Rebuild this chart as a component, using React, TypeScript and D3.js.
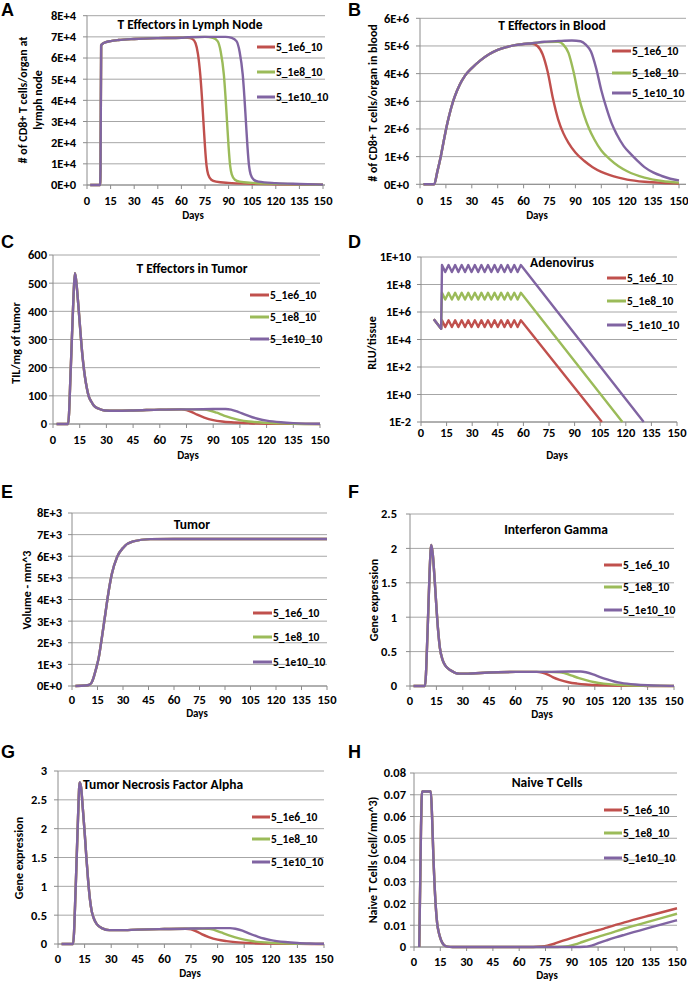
import React from 'react';
import * as d3 from 'd3';

type Pt = [number, number];

const seriesNames = ['5_1e6_10', '5_1e8_10', '5_1e10_10'];
const seriesColors = ['#C0504D', '#9BBB59', '#8064A2'];
const dayTicks = [0, 15, 30, 45, 60, 75, 90, 105, 120, 135, 150];

// ---------- A: T effectors in lymph node ----------
const lymphTicks = [0, 1e4, 2e4, 3e4, 4e4, 5e4, 6e4, 7e4, 8e4];
const lymphTickLabels = ['0E+0', '1E+4', '2E+4', '3E+4', '4E+4', '5E+4', '6E+4', '7E+4', '8E+4'];
const lymphCommon: Pt[] = [[2, 0], [8.3, 0], [8.6, 8000], [9, 66000], [10, 66800], [12, 67500], [15, 68000], [20, 68500], [30, 69000], [45, 69400], [60, 69600]];
const lymphRed: Pt[] = [[64, 69500], [67, 69000], [69, 67000], [70.5, 62000], [72, 52000], [73, 42000], [74, 30000], [75, 18000], [76, 9000], [77, 5000], [79, 2500], [82, 1600], [90, 1000], [105, 600], [120, 350], [150, 100]];
const lymphGreen: Pt[] = [[64, 69800], [75, 70000], [80, 69500], [83, 68000], [85, 63000], [87, 52000], [88, 42000], [89, 30000], [90, 18000], [91, 9000], [92, 5000], [94, 2500], [97, 1600], [105, 1000], [120, 600], [150, 150]];
const lymphPurple: Pt[] = [[64, 69800], [75, 70000], [88, 70000], [92, 69500], [95, 68000], [97, 63000], [99, 52000], [100, 42000], [101, 30000], [102, 18000], [103, 9000], [104, 5000], [106, 2500], [109, 1600], [120, 900], [135, 500], [150, 200]];

// ---------- B: T effectors in blood ----------
const bloodTicks = [0, 1e6, 2e6, 3e6, 4e6, 5e6, 6e6];
const bloodTickLabels = ['0E+0', '1E+6', '2E+6', '3E+6', '4E+6', '5E+6', '6E+6'];
const bloodCommon: Pt[] = [[2, 0], [8.2, 0], [10, 0.45e6], [12, 1.0e6], [14, 1.65e6], [16, 2.25e6], [18, 2.75e6], [20, 3.15e6], [23, 3.6e6], [26, 3.92e6], [30, 4.2e6], [35, 4.48e6], [40, 4.7e6], [45, 4.86e6], [50, 4.96e6], [55, 5.03e6], [60, 5.07e6]];
const bloodRed: Pt[] = [[65, 5.08e6], [68, 5.0e6], [71, 4.7e6], [74, 4.05e6], [77, 3.1e6], [80, 2.35e6], [83, 1.85e6], [86, 1.5e6], [90, 1.15e6], [95, 0.85e6], [100, 0.62e6], [105, 0.45e6], [110, 0.33e6], [115, 0.24e6], [120, 0.17e6], [130, 0.09e6], [140, 0.05e6], [150, 0.03e6]];
const bloodGreen: Pt[] = [[65, 5.1e6], [72, 5.14e6], [80, 5.15e6], [83, 5.05e6], [86, 4.75e6], [89, 4.05e6], [92, 3.15e6], [95, 2.5e6], [98, 2.0e6], [101, 1.62e6], [105, 1.22e6], [110, 0.9e6], [115, 0.65e6], [120, 0.47e6], [130, 0.24e6], [140, 0.12e6], [150, 0.06e6]];
const bloodPurple: Pt[] = [[65, 5.1e6], [72, 5.15e6], [80, 5.18e6], [88, 5.2e6], [93, 5.17e6], [96, 5.05e6], [99, 4.8e6], [102, 4.2e6], [105, 3.4e6], [108, 2.75e6], [111, 2.2e6], [114, 1.8e6], [118, 1.38e6], [122, 1.1e6], [126, 0.85e6], [130, 0.62e6], [135, 0.43e6], [140, 0.3e6], [145, 0.2e6], [150, 0.14e6]];

// ---------- C: T effectors in tumor ----------
const tilTicks = [0, 100, 200, 300, 400, 500, 600];
const tilTickLabels = ['0', '100', '200', '300', '400', '500', '600'];
const tilCommon: Pt[] = [[2, 0], [8.5, 0], [10, 200], [11.5, 450], [12.3, 535], [13, 510], [14, 440], [15, 360], [16, 280], [17, 215], [18, 165], [19, 128], [20, 100], [21.5, 80], [23, 65], [25.5, 55], [29, 48], [35, 47], [45, 48], [60, 51], [72, 52]];
const tilRed: Pt[] = [[75, 49], [78, 42], [81, 33], [85, 23], [90, 14], [95, 9], [100, 6], [110, 3], [120, 1], [135, 0.3], [150, 0]];
const tilGreen: Pt[] = [[78, 52], [85, 51], [88, 48], [92, 40], [96, 30], [100, 22], [105, 14], [110, 9], [120, 4], [135, 1], [150, 0]];
const tilPurple: Pt[] = [[78, 52], [90, 53], [97, 53], [100, 51], [104, 43], [108, 33], [112, 24], [116, 17], [120, 12], [128, 6], [135, 3], [142, 1.5], [150, 0.7]];

// ---------- D: Adenovirus ----------
const adenoTicks = [1e-2, 1, 1e2, 1e4, 1e6, 1e8, 1e10];
const adenoTickLabels = ['1E-2', '1E+0', '1E+2', '1E+4', '1E+6', '1E+8', '1E+10'];
const adenoPre: Pt[] = [[7.5, 3e5], [11.8, 6e4]];
const adenoPeakDays = [12.3, 16.15, 20, 23.85, 27.7, 31.55, 35.4, 39.25, 43.1, 46.95, 50.8, 54.65, 58.5];
const adenoTroughDays = [14.2, 18.1, 21.9, 25.8, 29.6, 33.5, 37.3, 41.2, 45, 48.9, 52.7, 56.6];
const adenoPeak = [2.5e5, 2.5e7, 2.6e9];
const adenoTrough = [8e4, 8e6, 8e8];
const adenoEndDay = [106, 118, 130.5];
const adenoEndValue = 1e-2;

// ---------- E: Tumor volume ----------
const volTicks = [0, 1e3, 2e3, 3e3, 4e3, 5e3, 6e3, 7e3, 8e3];
const volTickLabels = ['0E+0', '1E+3', '2E+3', '3E+3', '4E+3', '5E+3', '6E+3', '7E+3', '8E+3'];
const volAll: Pt[] = [[2, 0], [8, 20], [10, 50], [11.5, 150], [12.7, 390], [14, 750], [15.7, 1300], [17.6, 2250], [19.6, 3330], [21.6, 4400], [23.5, 5200], [26.5, 5960], [30.4, 6420], [36, 6690], [46, 6790], [60, 6800], [150, 6800]];

// ---------- F: Interferon gamma ----------
const ifnTicks = [0, 0.5, 1, 1.5, 2, 2.5];
const ifnTickLabels = ['0', '0.5', '1', '1.5', '2', '2.5'];
const ifnCommon: Pt[] = [[2, 0], [8.5, 0], [10, 0.8], [11.2, 1.7], [12.1, 2.05], [13, 1.9], [14, 1.55], [15, 1.15], [16, 0.8], [17, 0.55], [18.5, 0.38], [20, 0.3], [23, 0.23], [28, 0.18], [33, 0.18], [40, 0.19], [50, 0.2], [60, 0.205], [72, 0.205]];
const ifnRed: Pt[] = [[75, 0.195], [78, 0.17], [81, 0.13], [85, 0.09], [90, 0.055], [95, 0.035], [100, 0.022], [110, 0.01], [120, 0.004], [135, 0.001], [150, 0]];
const ifnGreen: Pt[] = [[78, 0.205], [85, 0.2], [88, 0.185], [92, 0.15], [96, 0.115], [100, 0.085], [105, 0.055], [110, 0.035], [120, 0.013], [135, 0.003], [150, 0.001]];
const ifnPurple: Pt[] = [[78, 0.205], [90, 0.21], [97, 0.21], [100, 0.2], [104, 0.17], [108, 0.13], [112, 0.095], [116, 0.065], [120, 0.045], [128, 0.022], [135, 0.011], [142, 0.005], [150, 0.002]];

// ---------- G: TNF alpha ----------
const tnfTicks = [0, 0.5, 1, 1.5, 2, 2.5, 3];
const tnfTickLabels = ['0', '0.5', '1', '1.5', '2', '2.5', '3'];
const tnfCommon: Pt[] = [[2, 0], [8.5, 0], [10, 1.0], [11.3, 2.2], [12.2, 2.8], [13, 2.72], [14, 2.35], [15, 1.95], [16, 1.5], [17, 1.1], [18, 0.78], [19, 0.57], [20.5, 0.42], [22, 0.34], [25, 0.27], [29, 0.24], [35, 0.24], [45, 0.25], [60, 0.26], [72, 0.265]];
const tnfRed: Pt[] = [[75, 0.255], [78, 0.22], [81, 0.17], [85, 0.12], [90, 0.075], [95, 0.05], [100, 0.033], [110, 0.015], [120, 0.006], [135, 0.002], [150, 0]];
const tnfGreen: Pt[] = [[78, 0.27], [85, 0.265], [88, 0.245], [92, 0.2], [96, 0.155], [100, 0.115], [105, 0.075], [110, 0.048], [120, 0.02], [135, 0.005], [150, 0.001]];
const tnfPurple: Pt[] = [[78, 0.27], [90, 0.275], [97, 0.275], [100, 0.265], [104, 0.23], [108, 0.18], [112, 0.135], [116, 0.095], [120, 0.068], [128, 0.035], [135, 0.018], [142, 0.009], [150, 0.004]];

// ---------- H: Naive T cells ----------
const naiveTicks = [0, 0.01, 0.02, 0.03, 0.04, 0.05, 0.06, 0.07, 0.08];
const naiveTickLabels = ['0', '0.01', '0.02', '0.03', '0.04', '0.05', '0.06', '0.07', '0.08'];
const naiveCommon: Pt[] = [[3, 0], [4, 0.055], [4.6, 0.0715], [9.6, 0.0715], [10.3, 0.06], [11, 0.043], [12.3, 0.02], [13.2, 0.011], [14.2, 0.0064], [15.5, 0.003], [17, 0.001], [19, 0.0002], [22, 0], [60, 0]];
const naiveRed: Pt[] = [[68, 0], [72, 0.0002], [76, 0.0006], [80, 0.0015], [85, 0.0029], [90, 0.0042], [95, 0.0054], [100, 0.0066], [105, 0.0077], [110, 0.0089], [120, 0.0113], [135, 0.0146], [150, 0.0178]];
const naiveGreen: Pt[] = [[80, 0], [84, 0.0001], [88, 0.0004], [92, 0.0012], [96, 0.0023], [100, 0.0034], [105, 0.0047], [110, 0.0059], [120, 0.0085], [135, 0.0119], [150, 0.0153]];
const naivePurple: Pt[] = [[92, 0], [97, 0.0001], [100, 0.0004], [103, 0.0011], [106, 0.002], [110, 0.0031], [115, 0.0044], [120, 0.0056], [135, 0.009], [150, 0.0123]];

function buildAdeno(i: number): Pt[] {
  const pts: Pt[] = [...adenoPre];
  adenoPeakDays.forEach((d, k) => {
    pts.push([d, adenoPeak[i]]);
    if (k < adenoTroughDays.length) pts.push([adenoTroughDays[k], adenoTrough[i]]);
  });
  pts.push([adenoEndDay[i], adenoEndValue]);
  return pts;
}

const FONT = "Carlito, Lato, 'Open Sans', sans-serif";

interface Spec {
  letter: string; lx: number; ly: number;
  x0: number; x1: number; yT: number; yB: number;
  domain: [number, number]; log?: boolean;
  ticks: number[]; tickLabels: string[];
  title: string; tx: number; ty: number; tAnchor?: string;
  yLabel: string[]; ylx: number[]; yly: number;
  daysX: number; daysY: number; xLabY: number; yLabRight: number;
  legX0: number; legX1: number; legY: number[];
  series: Pt[][]; smooth: boolean; gridRight?: number;
}

const specs: Spec[] = [
  {
    letter: 'A', lx: 1, ly: 16, x0: 87, x1: 323, yT: 15.7, yB: 185, domain: [0, 8e4],
    ticks: lymphTicks, tickLabels: lymphTickLabels,
    title: 'T Effectors in Lymph Node', tx: 190, ty: 29,
    yLabel: ['# of CD8+ T cells/organ at', 'lymph node'], ylx: [23, 38], yly: 100,
    daysX: 193, daysY: 219, xLabY: 205, yLabRight: 76,
    legX0: 257, legX1: 275, legY: [47, 72, 97],
    series: [[...lymphCommon, ...lymphRed], [...lymphCommon, ...lymphGreen], [...lymphCommon, ...lymphPurple]], smooth: true, gridRight: 325,
  },
  {
    letter: 'B', lx: 348, ly: 16, x0: 420, x1: 679, yT: 18.3, yB: 184.3, domain: [0, 6e6],
    ticks: bloodTicks, tickLabels: bloodTickLabels,
    title: 'T Effectors in Blood', tx: 552, ty: 30,
    yLabel: ['# of CD8+ T cells/organ in blood'], ylx: [373], yly: 103,
    daysX: 537, daysY: 219, xLabY: 205, yLabRight: 409,
    legX0: 612, legX1: 631, legY: [51, 73, 93],
    series: [[...bloodCommon, ...bloodRed], [...bloodCommon, ...bloodGreen], [...bloodCommon, ...bloodPurple]], smooth: true, gridRight: 686,
  },
  {
    letter: 'C', lx: 1, ly: 248, x0: 53, x1: 320, yT: 255, yB: 424, domain: [0, 600],
    ticks: tilTicks, tickLabels: tilTickLabels,
    title: 'T Effectors in Tumor', tx: 192, ty: 273,
    yLabel: ['TIL/mg of tumor'], ylx: [16], yly: 343,
    daysX: 188, daysY: 459, xLabY: 444, yLabRight: 47,
    legX0: 250, legX1: 269, legY: [295, 317, 339],
    series: [[...tilCommon, ...tilRed], [...tilCommon, ...tilGreen], [...tilCommon, ...tilPurple]], smooth: true,
  },
  {
    letter: 'D', lx: 348, ly: 248, x0: 421, x1: 677, yT: 257, yB: 422, domain: [1e-2, 1e10], log: true,
    ticks: adenoTicks, tickLabels: adenoTickLabels,
    title: 'Adenovirus', tx: 562, ty: 267,
    yLabel: ['RLU/tissue'], ylx: [372], yly: 343,
    daysX: 557, daysY: 459, xLabY: 437, yLabRight: 411,
    legX0: 607, legX1: 626, legY: [278, 301, 325],
    series: [buildAdeno(0), buildAdeno(1), buildAdeno(2)], smooth: false,
  },
  {
    letter: 'E', lx: 1, ly: 498, x0: 72, x1: 327, yT: 513, yB: 686, domain: [0, 8e3],
    ticks: volTicks, tickLabels: volTickLabels,
    title: 'Tumor', tx: 192, ty: 529,
    yLabel: ['Volume - mm^3'], ylx: [27], yly: 590,
    daysX: 197, daysY: 717, xLabY: 704, yLabRight: 62,
    legX0: 253, legX1: 272, legY: [613, 637, 662],
    series: [volAll, volAll, volAll], smooth: true,
  },
  {
    letter: 'F', lx: 348, ly: 498, x0: 410, x1: 674, yT: 514, yB: 686, domain: [0, 2.5],
    ticks: ifnTicks, tickLabels: ifnTickLabels,
    title: 'Interferon Gamma', tx: 556, ty: 534,
    yLabel: ['Gene expression'], ylx: [374], yly: 600,
    daysX: 542, daysY: 718, xLabY: 705, yLabRight: 397,
    legX0: 604, legX1: 622, legY: [565, 587, 610],
    series: [[...ifnCommon, ...ifnRed], [...ifnCommon, ...ifnGreen], [...ifnCommon, ...ifnPurple]], smooth: true,
  },
  {
    letter: 'G', lx: 1, ly: 758, x0: 58, x1: 324, yT: 771, yB: 944, domain: [0, 3],
    ticks: tnfTicks, tickLabels: tnfTickLabels,
    title: 'Tumor Necrosis Factor Alpha', tx: 83, ty: 789, tAnchor: 'start',
    yLabel: ['Gene expression'], ylx: [19], yly: 858,
    daysX: 190, daysY: 977, xLabY: 963, yLabRight: 47,
    legX0: 252, legX1: 270, legY: [817, 839, 862],
    series: [[...tnfCommon, ...tnfRed], [...tnfCommon, ...tnfGreen], [...tnfCommon, ...tnfPurple]], smooth: true,
  },
  {
    letter: 'H', lx: 348, ly: 758, x0: 414, x1: 677, yT: 773, yB: 947, domain: [0, 0.08],
    ticks: naiveTicks, tickLabels: naiveTickLabels,
    title: 'Naive T Cells', tx: 547, ty: 787,
    yLabel: ['Naive T Cells (cell/mm^3)'], ylx: [373], yly: 860,
    daysX: 547, daysY: 979, xLabY: 966, yLabRight: 406,
    legX0: 604, legX1: 622, legY: [810, 833, 858],
    series: [[...naiveCommon, ...naiveRed], [...naiveCommon, ...naiveGreen], [...naiveCommon, ...naivePurple]], smooth: true,
  },
];

function Panel({ s }: { s: Spec }) {
  const x = d3.scaleLinear().domain([0, 150]).range([s.x0, s.x1]);
  const y = s.log
    ? d3.scaleLog().domain(s.domain).range([s.yB, s.yT])
    : d3.scaleLinear().domain(s.domain).range([s.yB, s.yT]);
  const line = d3.line<Pt>()
    .x((d) => x(d[0]))
    .y((d) => y(d[1]))
    .curve(s.smooth ? d3.curveMonotoneX : d3.curveLinear);
  const gr = s.gridRight ?? s.x1;
  return (
    <g fontFamily={FONT} fontWeight="bold" fill="#000">
      <text x={s.lx} y={s.ly} fontSize={18} fontFamily="'Liberation Sans', Arial, sans-serif">{s.letter}</text>
      {s.ticks.map((t, i) => (
        <g key={'g' + i}>
          <line x1={s.x0} x2={gr} y1={y(t)} y2={y(t)} stroke="#A6A6A6" strokeWidth={1} />
          <line x1={s.x0 - 4} x2={s.x0} y1={y(t)} y2={y(t)} stroke="#8C8C8C" strokeWidth={1} />
          <text x={s.yLabRight} y={y(t)} dy="0.35em" textAnchor="end" fontSize={12.5}>{s.tickLabels[i]}</text>
        </g>
      ))}
      <line x1={s.x0} x2={s.x0} y1={s.yT} y2={s.yB} stroke="#8C8C8C" strokeWidth={1} />
      <line x1={s.x0} x2={gr} y1={s.yB} y2={s.yB} stroke="#8C8C8C" strokeWidth={1} />
      {dayTicks.map((d) => (
        <g key={'x' + d}>
          <line x1={x(d)} x2={x(d)} y1={s.yB} y2={s.yB + 4} stroke="#8C8C8C" strokeWidth={1} />
          <text x={x(d)} y={s.xLabY} textAnchor="middle" fontSize={12.5}>{d}</text>
        </g>
      ))}
      <text x={s.daysX} y={s.daysY} textAnchor="middle" fontSize={11}>Days</text>
      {s.yLabel.map((l, i) => (
        <text key={'yl' + i} transform={`translate(${s.ylx[i]},${s.yly}) rotate(-90)`} textAnchor="middle" dy="0.35em" fontSize={12}>{l}</text>
      ))}
      {s.series.map((pts, i) => (
        <path key={'s' + i} d={line(pts) ?? ''} fill="none" stroke={seriesColors[i]} strokeWidth={2.4} strokeLinejoin="round" />
      ))}
      <text x={s.tx} y={s.ty} textAnchor={s.tAnchor ?? 'middle'} fontSize={13.5}>{s.title}</text>
      {seriesNames.map((n, i) => (
        <g key={'lg' + i}>
          <line x1={s.legX0} x2={s.legX1} y1={s.legY[i]} y2={s.legY[i]} stroke={seriesColors[i]} strokeWidth={3} />
          <text x={s.legX1 + 1} y={s.legY[i]} dy="0.35em" fontSize={11.5}>{n}</text>
        </g>
      ))}
    </g>
  );
}

export default function App() {
  return (
    <svg width={688} height={982} style={{ position: 'absolute', left: 0, top: 0, background: '#fff' }}>
      <rect x={0} y={0} width={688} height={982} fill="#fff" />
      {specs.map((s) => <Panel key={s.letter} s={s} />)}
    </svg>
  );
}
